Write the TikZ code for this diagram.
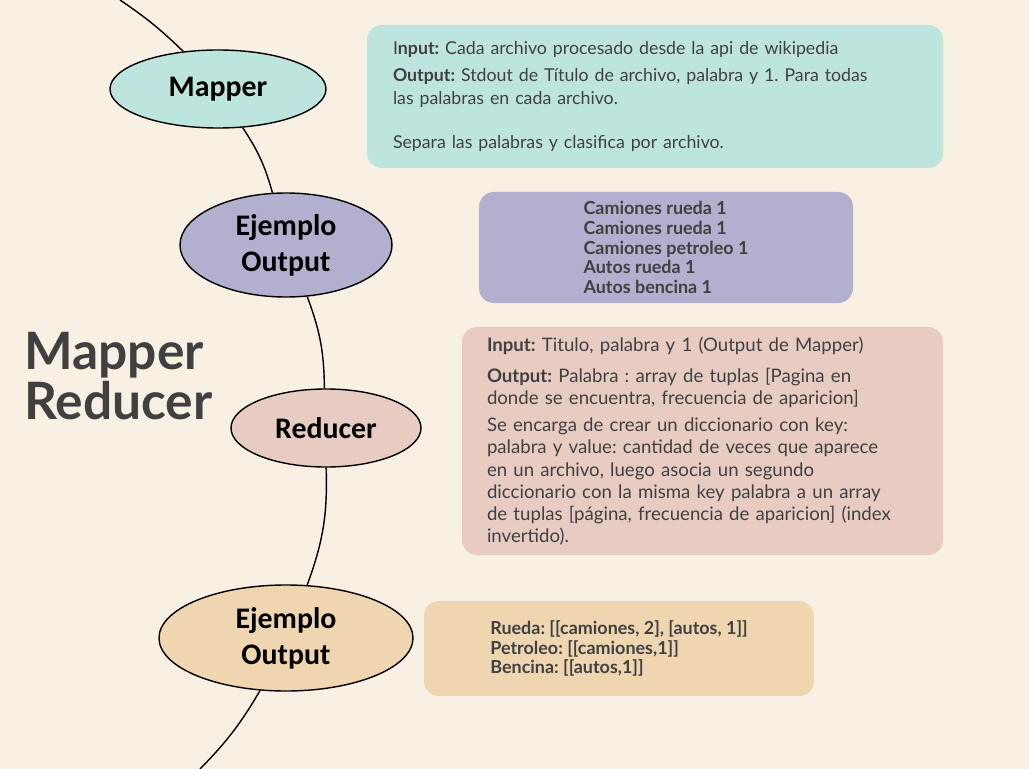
\documentclass[tikz,border=0pt]{standalone}
\usepackage{fontspec}
\setmainfont{Lato}
\newfontfamily\ovalfont{Carlito}
\usepackage{xcolor}
\usetikzlibrary{shapes.geometric}
\definecolor{paper}{HTML}{F8F0E2}
\definecolor{mint}{HTML}{BDE5DD}
\definecolor{lilac}{HTML}{B1B0CE}
\definecolor{blush}{HTML}{E8CCC2}
\definecolor{sand}{HTML}{F0D5B1}
\definecolor{ink}{HTML}{404040}
\frenchspacing

\begin{document}
\begin{tikzpicture}[x=0.2mm,y=-0.2mm,
  oval/.style={ellipse,draw=black,line width=0.8pt,inner sep=0pt,align=center,
    font=\ovalfont\bfseries\fontsize{17}{20.4}\selectfont},
  infobox/.style={rounded corners=3mm,inner sep=0pt,text=ink,
    font=\fontsize{10.6}{12.6}\selectfont},
  samplebox/.style={infobox,align=left,font=\bfseries\fontsize{10.2}{11.3}\selectfont},
  spine/.style={line width=0.8pt}]
\fill[paper] (0,0) rectangle (1029,769);
\useasboundingbox (0,0) rectangle (1029,769);

\node[oval,fill=mint,minimum width=43.2mm,minimum height=15.6mm] (mapper) at (218,89) {Mapper};
\node[oval,fill=lilac,minimum width=42.4mm,minimum height=20.8mm] (mapsample) at (286,245) {Ejemplo\\Output};
\node[oval,fill=blush,minimum width=38mm,minimum height=15.6mm] (reducer) at (326,428) {Reducer};
\node[oval,fill=sand,minimum width=50.8mm,minimum height=21.2mm] (redsample) at (286,638) {Ejemplo\\Output};
\coordinate (top) at (120,0);
\coordinate (bottom) at (200,769);

\draw[spine] (top) to[bend left=5] (mapper);
\draw[spine] (mapper) to[bend left=9] (mapsample);
\draw[spine] (mapsample) to[bend left=10] (reducer);
\draw[spine] (reducer) to[bend left=11] (redsample);
\draw[spine] (redsample) to[bend left=7] (bottom);

\node[text=ink,font=\bfseries\fontsize{29.3}{28}\selectfont,align=left,anchor=west,inner sep=0pt] (title) at (24,376) {Mapper\\Reducer};

\node[infobox,fill=mint,minimum width=115.2mm,minimum height=28.6mm,inner xsep=5.2mm,text width=104.8mm,align=left,
  font=\fontsize{10.1}{13}\selectfont] (mapinfo) at (655,96.5)
  {I\textbf{nput:} Cada archivo procesado desde la api de wikipedia\\[2pt]
   \textbf{Output:} Stdout de Título de archivo, palabra y 1. Para todas\\
   las palabras en cada archivo.\\[12pt]
   Separa las palabras y clasifica por archivo.};
\node[samplebox,fill=lilac,minimum width=74.8mm,minimum height=22.2mm] (mapout) at (666,247.5)
  {Camiones rueda 1\\ Camiones rueda 1\\ Camiones petroleo 1\\ Autos rueda 1\\ Autos bencina 1};
\node[infobox,fill=blush,minimum width=96.2mm,minimum height=45.6mm,inner xsep=5mm,text width=86.2mm,align=left] (redinfo) at (702.5,441)
  {\textbf{Input:} Titulo, palabra y 1 (Output de Mapper)\\[5pt]
   \textbf{Output:} Palabra : array de tuplas [Pagina en\\
   donde se encuentra, frecuencia de aparicion]\\[3pt]
   Se encarga de crear un diccionario con key:\\
   palabra y value: cantidad de veces que aparece\\
   en un archivo, luego asocia un segundo\\
   diccionario con la misma key palabra a un array\\
   de tuplas [página, frecuencia de aparicion] (index\\
   invertido).};
\node[samplebox,fill=sand,minimum width=78mm,minimum height=19mm] (redout) at (619,648.5)
  {Rueda: [[camiones, 2], [autos, 1]]\\ Petroleo: [[camiones,1]]\\ Bencina: [[autos,1]]};
\end{tikzpicture}
\end{document}
